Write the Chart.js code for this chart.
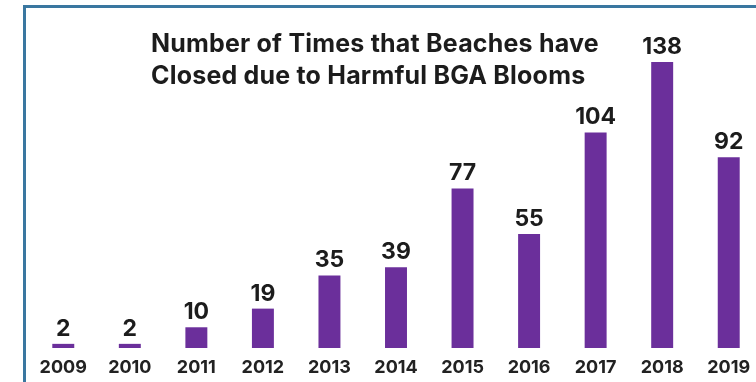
<!DOCTYPE html>
<html>
<head>
<meta charset="utf-8">
<script src="https://cdn.jsdelivr.net/npm/chart.js@4"></script>
<style>
  html, body { margin: 0; padding: 0; background: #fff; overflow: hidden; width: 756px; height: 382px; }
  #wrap { position: absolute; left: 0; top: 0; width: 762px; height: 382px; }
  #frame { position: absolute; left: 23px; top: 5px; width: 760px; height: 400px;
           border-left: 3px solid #3a77a0; border-top: 3px solid #3a77a0; box-sizing: border-box; }
  #title { position: absolute; left: 151px; top: 27px; font-family: Inter, "Liberation Sans", sans-serif;
           font-weight: 700; font-size: 25px; line-height: 32px; color: #1c1c1c; white-space: nowrap;
           letter-spacing: 0.2px; }
</style>
</head>
<body>
<div id="wrap"><canvas id="c"></canvas></div>
<div id="frame"></div>
<div id="title">Number of Times that Beaches have<br>Closed due to Harmful BGA Blooms</div>
<script>
const years = ['2009','2010','2011','2012','2013','2014','2015','2016','2017','2018','2019'];
const closures = [2, 2, 10, 19, 35, 39, 77, 55, 104, 138, 92];
const yMax = 138;

const valueLabels = {
  id: 'valueLabels',
  afterDatasetsDraw(chart) {
    const ctx = chart.ctx;
    const meta = chart.getDatasetMeta(0);
    ctx.save();
    ctx.font = '700 23px Inter, "Liberation Sans", sans-serif';
    ctx.fillStyle = '#1c1c1c';
    ctx.textAlign = 'center';
    ctx.textBaseline = 'alphabetic';
    meta.data.forEach((bar, i) => {
      ctx.fillText(String(closures[i]), bar.x, bar.y - 8);
    });
    ctx.restore();
  }
};

new Chart(document.getElementById('c'), {
  type: 'bar',
  data: {
    labels: years,
    datasets: [{
      data: closures,
      backgroundColor: '#6b2f9b',
      borderWidth: 0,
      categoryPercentage: 1,
      barPercentage: 0.33
    }]
  },
  options: {
    responsive: true,
    maintainAspectRatio: false,
    animation: false,
    layout: { padding: { left: 30, right: 0, top: 62, bottom: 0 } },
    plugins: { legend: { display: false }, tooltip: { enabled: false }, title: { display: false } },
    scales: {
      y: { display: false, min: 0, max: yMax },
      x: {
        grid: { display: false, drawTicks: false },
        border: { display: false },
        ticks: {
          color: '#222',
          font: { family: 'Inter, "Liberation Sans", sans-serif', weight: '700', size: 18 },
          padding: 9,
          maxRotation: 0,
          autoSkip: false
        },
        afterFit(scale) { scale.height = 34; }
      }
    }
  },
  plugins: [valueLabels]
});
</script>
</body>
</html>
